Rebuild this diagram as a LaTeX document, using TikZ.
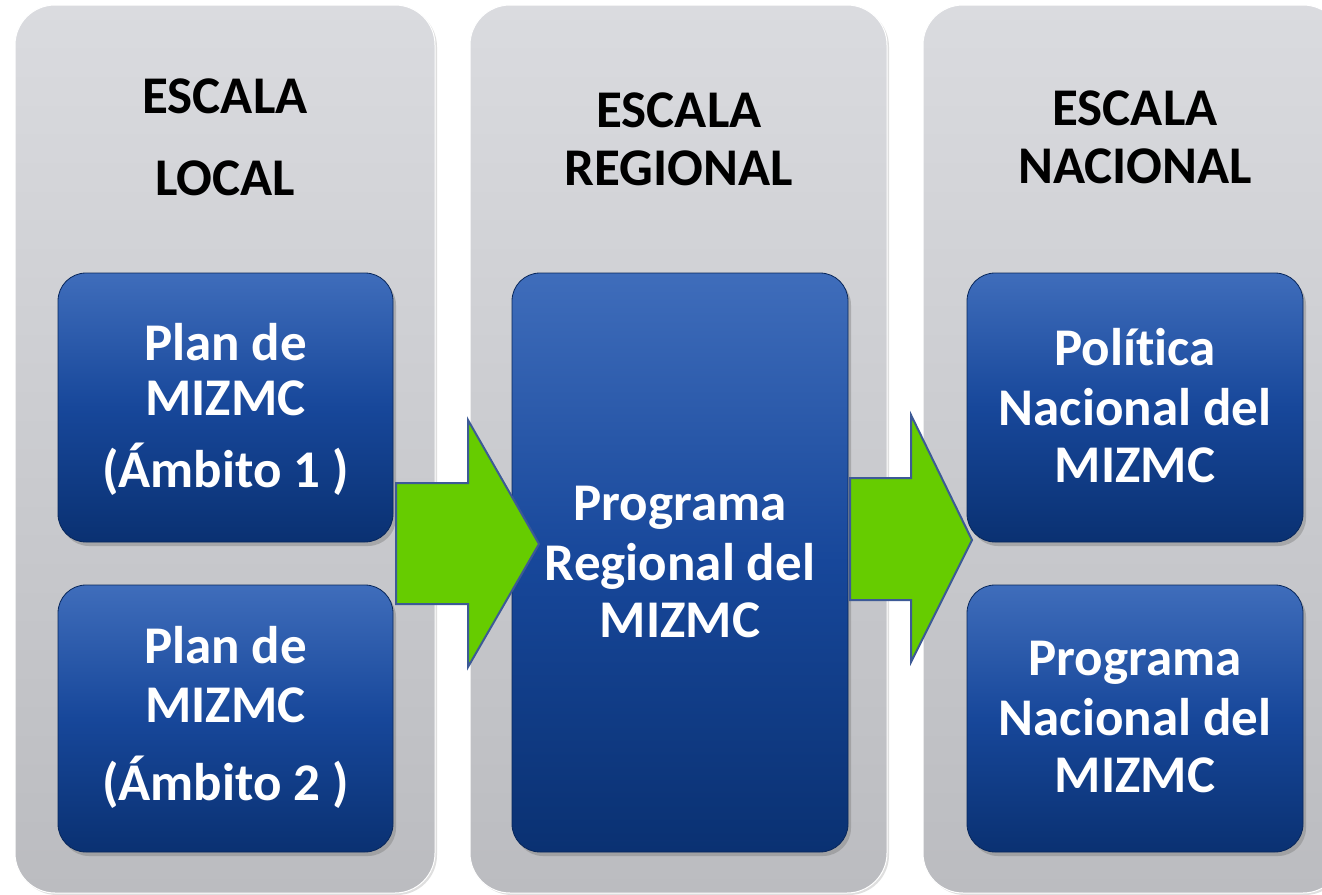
\documentclass[tikz,border=0pt]{standalone}
\usepackage{fontspec}
\setmainfont{Carlito}[Ligatures=NoCommon]
\usetikzlibrary{shadows}
\definecolor{colTop}{HTML}{DADBDF}
\definecolor{colBot}{HTML}{BBBCC0}
\definecolor{boxTop}{HTML}{3F6DBB}
\definecolor{boxMid}{HTML}{17479A}
\definecolor{boxBot}{HTML}{0A3172}
\definecolor{arrowFill}{HTML}{66CC00}
\definecolor{arrowLine}{HTML}{3D5A96}
\tikzset{
 column/.style={rectangle, rounded corners=40pt, top color=colTop, bottom color=colBot, draw=white, line width=1pt, inner sep=0pt,
   drop shadow={opacity=0.25, shadow xshift=2pt, shadow yshift=-2pt}},
 bluebox/.style={rectangle, rounded corners=28pt, top color=boxTop, bottom color=boxBot, middle color=boxMid, draw=boxBot!80!black, line width=0.8pt, inner sep=0pt,
   drop shadow={opacity=0.45, shadow xshift=3pt, shadow yshift=-4pt}},
 head/.style={anchor=base, font=\fontsize{53}{60}\selectfont\bfseries, text=black, inner sep=0pt},
 inbox/.style={anchor=base, font=\fontsize{53}{60}\selectfont\bfseries, text=white, inner sep=0pt},
 blockarrow/.style={fill=arrowFill, draw=arrowLine, line width=2pt, line join=miter},
}
\begin{document}
\begin{tikzpicture}[x=1pt,y=-1pt]
\useasboundingbox[fill=white] (0,0) rectangle (1322,894);
\begin{scope}
\clip (0,0) rectangle (1322,894);
% columns
\node[column, minimum width=420pt, minimum height=888pt] (c1) at (225,449) {};
\node[column, minimum width=417pt, minimum height=888pt] (c2) at (678.5,449) {};
\node[column, minimum width=420pt, minimum height=888pt] (c3) at (1133,449) {};
\end{scope}
% headers
\node[head] (h1a) at (225,113) {ESCALA};
\node[head] (h1b) at (225,195) {LOCAL};
\node[head] (h2a) at (679,127) {ESCALA};
\node[head] (h2b) at (679,185) {REGIONAL};
\node[head] (h3a) at (1135,125) {ESCALA};
\node[head] (h3b) at (1135,183) {NACIONAL};
% blue boxes
\node[bluebox, minimum width=335pt, minimum height=269pt] (b1) at (225.5,407.5) {};
\node[bluebox, minimum width=335pt, minimum height=267pt] (b2) at (225.5,718.5) {};
\node[bluebox, minimum width=336pt, minimum height=579pt] (b3) at (680,562.5) {};
\node[bluebox, minimum width=336pt, minimum height=269pt] (b4) at (1135,407.5) {};
\node[bluebox, minimum width=336pt, minimum height=267pt] (b5) at (1135,718.5) {};
% box texts
\node[inbox] (t1a) at (225.5,360) {Plan de};
\node[inbox] (t1b) at (225.5,415) {MIZMC};
\node[inbox] (t1c) at (225.5,487) {(Ámbito 1 )};
\node[inbox] (t2a) at (225.5,663) {Plan de};
\node[inbox] (t2b) at (225.5,722) {MIZMC};
\node[inbox] (t2c) at (225.5,800) {(Ámbito 2 )};
\node[inbox] (t3a) at (680,520) {Programa};
\node[inbox] (t3b) at (680,580) {Regional del};
\node[inbox] (t3c) at (680,637) {MIZMC};
\node[inbox] (t4a) at (1135,365) {Política};
\node[inbox] (t4b) at (1135,425) {Nacional del};
\node[inbox] (t4c) at (1135,482) {MIZMC};
\node[inbox] (t5a) at (1135,675) {Programa};
\node[inbox] (t5b) at (1135,735) {Nacional del};
\node[inbox] (t5c) at (1135,792) {MIZMC};
% block arrows
\draw[blockarrow] (396,483) -- (468,483) -- (468,420) -- (539,544) -- (468,667) -- (468,604) -- (396,604) -- cycle;
\draw[blockarrow] (850,478) -- (911,478) -- (911,415) -- (972,540) -- (911,662) -- (911,600) -- (850,600) -- cycle;
\end{tikzpicture}
\end{document}
